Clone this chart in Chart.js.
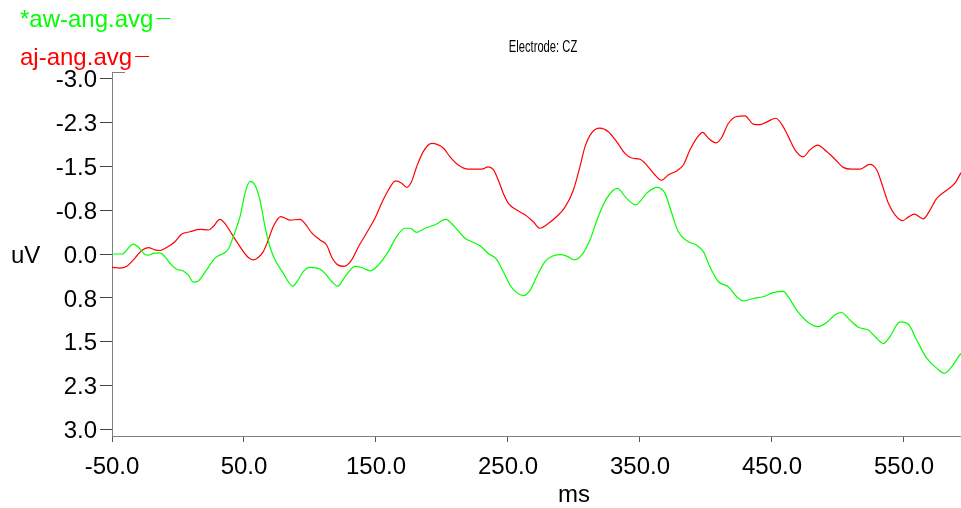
<!DOCTYPE html>
<html>
<head>
<meta charset="utf-8">
<script src="https://cdn.jsdelivr.net/npm/chart.js@4/dist/chart.umd.min.js"></script>
<style>
  html, body { margin: 0; padding: 0; background: #fff; }
  #wrap { width: 961px; height: 508px; }
</style>
</head>
<body>
<div id="wrap"><canvas id="erpChart" width="961" height="508"></canvas></div>
<script>
// series names and colours
const seriesNames = ["*aw-ang.avg", "aj-ang.avg"];
const seriesColors = ["rgb(0,255,0)", "rgb(255,0,0)"];
const chartTitle = "Electrode: CZ";
const xTitle = "ms";
const yTitle = "uV";

// green trace (*aw-ang.avg)
const greenMs = [-50, -42.6, -33.9, -30.1, -25, -22.5, -18.7, -13.6, -9.8, -4.8, -1, 4, 7.8, 11.6, 15.4, 21.7, 28, 34.3, 38.1, 41.9, 47, 50.8, 54.5, 58.3, 62.1, 65.9, 69.7, 73.5, 79.8, 86.9, 91.1, 94.9, 100, 107.6, 111.4, 116.4, 121, 126.5, 134.1, 139.2, 145.5, 151.7, 159.3, 165.7, 172, 175.8, 180.8, 187.1, 194.7, 202.8, 209.8, 217.4, 222.5, 228.8, 235.1, 241.4, 246.4, 251.5, 256.6, 261.6, 266.7, 271.7, 278, 284.3, 290.7, 295.7, 300.2, 305.8, 312.1, 318.4, 324.8, 332.8, 339.9, 346.7, 355.1, 362.7, 368.9, 374, 379, 386.6, 393, 398, 403, 409.3, 416.9, 423.3, 428.3, 435.8, 443.4, 451, 458.6, 462.3, 468.7, 477.5, 485.1, 491.4, 497.7, 502.8, 507.8, 515.4, 523, 528, 534.3, 539.4, 547, 553.3, 559.6, 567.2, 574.8, 580.5, 586.1, 591.7, 593.2];
const greenUv = [0, 0, -0.17, -0.12, 0.01, 0.02, -0.01, -0.02, 0.05, 0.19, 0.26, 0.29, 0.36, 0.48, 0.46, 0.27, 0.07, -0.01, -0.08, -0.30, -0.64, -1.04, -1.24, -1.18, -0.92, -0.47, -0.12, 0.10, 0.33, 0.55, 0.44, 0.30, 0.23, 0.26, 0.33, 0.47, 0.55, 0.39, 0.21, 0.23, 0.29, 0.19, -0.04, -0.30, -0.44, -0.44, -0.37, -0.44, -0.50, -0.59, -0.46, -0.27, -0.21, -0.14, -0.01, 0.09, 0.30, 0.53, 0.66, 0.71, 0.62, 0.39, 0.13, 0.03, 0.01, 0.05, 0.10, 0.02, -0.24, -0.64, -0.95, -1.12, -0.95, -0.84, -1.04, -1.14, -1.04, -0.70, -0.38, -0.21, -0.15, -0.04, 0.22, 0.47, 0.56, 0.73, 0.80, 0.76, 0.73, 0.66, 0.64, 0.73, 0.96, 1.17, 1.24, 1.17, 1.04, 1.00, 1.10, 1.25, 1.30, 1.41, 1.53, 1.41, 1.16, 1.20, 1.47, 1.78, 1.95, 2.04, 1.93, 1.74, 1.70];

// red trace (aj-ang.avg)
const redMs = [-50, -43.9, -38.9, -32.6, -27.5, -22.5, -17.4, -13.6, -8.6, -2.3, 2.8, 9.1, 16.7, 23, 26.7, 31.8, 35.6, 41.9, 48.3, 53.3, 57, 60.8, 64.6, 68.4, 72.2, 77.8, 84.8, 92.4, 96.2, 101.3, 107.6, 112.7, 116.4, 121.4, 126, 131.6, 136.6, 144.2, 149.2, 154.3, 159.3, 164.9, 169.5, 173.3, 177, 180.8, 185.8, 192.2, 201, 206.1, 212.3, 219.9, 230.1, 235.1, 238.9, 242.7, 246.4, 250.2, 256.6, 262.9, 269.2, 274.2, 279.3, 286.9, 293.2, 299.5, 304.5, 308.3, 313.4, 319.7, 326, 332.3, 338.6, 343.7, 350, 355.1, 361.4, 366.4, 371.4, 377.8, 382.8, 387.9, 393, 397.5, 401.7, 407.6, 411.9, 416.9, 423.3, 429.5, 435.8, 440.9, 444.7, 452.8, 457.3, 462.3, 467.4, 473.7, 478.8, 484.6, 491.4, 497.7, 504, 510.4, 516.7, 524.2, 529.3, 533.1, 538.1, 543.2, 549, 553.3, 557.8, 564.6, 569.7, 574.8, 582.3, 588.6, 593.2];
const redUv = [0.23, 0.24, 0.21, 0.07, -0.06, -0.11, -0.07, -0.06, -0.11, -0.21, -0.34, -0.38, -0.42, -0.41, -0.47, -0.59, -0.52, -0.30, -0.08, 0.06, 0.10, 0.06, -0.04, -0.24, -0.47, -0.64, -0.58, -0.59, -0.52, -0.36, -0.24, -0.15, 0.05, 0.19, 0.21, 0.10, -0.12, -0.41, -0.61, -0.87, -1.09, -1.25, -1.21, -1.14, -1.24, -1.49, -1.75, -1.89, -1.81, -1.66, -1.52, -1.45, -1.45, -1.49, -1.44, -1.26, -1.04, -0.87, -0.75, -0.67, -0.55, -0.44, -0.50, -0.64, -0.80, -1.09, -1.49, -1.83, -2.07, -2.15, -2.09, -1.92, -1.72, -1.64, -1.62, -1.52, -1.35, -1.26, -1.35, -1.42, -1.52, -1.78, -1.98, -2.08, -1.98, -1.90, -1.99, -2.23, -2.35, -2.36, -2.22, -2.21, -2.24, -2.32, -2.22, -2.01, -1.78, -1.66, -1.78, -1.86, -1.75, -1.62, -1.48, -1.45, -1.45, -1.53, -1.44, -1.21, -0.87, -0.67, -0.57, -0.63, -0.68, -0.60, -0.75, -0.95, -1.09, -1.21, -1.39];

// axes
const xMin = -50, xMax = 593.2;
const yMin = -3.11, yMax = 3.11;
const xTickValues = [-50, 50, 150, 250, 350, 450, 550];
const xTickLabels = ["-50.0", "50.0", "150.0", "250.0", "350.0", "450.0", "550.0"];
const yTickValues = [-3, -2.25, -1.5, -0.75, 0, 0.75, 1.5, 2.25, 3];
const yTickLabels = ["-3.0", "-2.3", "-1.5", "-0.8", "0.0", "0.8", "1.5", "2.3", "3.0"];

const FONT = "'Liberation Sans', Arial, sans-serif";
const AXIS_GREY = "#808080";

function toPoints(xs, ys) {
  return xs.map((x, i) => ({ x: x, y: ys[i] }));
}

// legend, title, axis names drawn straight on the canvas
const textPlugin = {
  id: "erpText",
  afterDraw(chart) {
    const ctx = chart.ctx;
    const area = chart.chartArea;
    ctx.save();
    ctx.font = "24px " + FONT;
    ctx.textAlign = "left";
    ctx.textBaseline = "alphabetic";
    seriesNames.forEach((name, i) => {
      const y = 27 + i * 37.5;
      ctx.fillStyle = seriesColors[i];
      ctx.fillText(name, 20, y);
      const w = ctx.measureText(name).width;
      ctx.strokeStyle = seriesColors[i];
      ctx.lineWidth = 1;
      ctx.beginPath();
      ctx.moveTo(20 + w + 3, Math.round(y - 9) + 0.5);
      ctx.lineTo(20 + w + 17, Math.round(y - 9) + 0.5);
      ctx.stroke();
    });

    ctx.fillStyle = "#000";
    ctx.fillText(yTitle, 11, 263);
    ctx.fillText(xTitle, 558, 502);

    // squashed title
    ctx.save();
    ctx.translate(543, 52);
    ctx.scale(0.7, 1);
    ctx.font = "16px " + FONT;
    ctx.textAlign = "center";
    ctx.fillText(chartTitle, 0, 0);
    ctx.restore();

    // small cap on top of the y axis
    ctx.strokeStyle = AXIS_GREY;
    ctx.lineWidth = 1;
    ctx.beginPath();
    ctx.moveTo(area.left, area.top + 0.5);
    ctx.lineTo(area.left + 13, area.top + 0.5);
    ctx.stroke();
    ctx.restore();
  }
};

const ctx = document.getElementById("erpChart").getContext("2d");
new Chart(ctx, {
  type: "line",
  data: {
    datasets: [
      {
        label: seriesNames[0],
        data: toPoints(greenMs, greenUv),
        borderColor: seriesColors[0],
        borderWidth: 1.2,
        pointRadius: 0,
        fill: false,
        cubicInterpolationMode: "monotone",
      },
      {
        label: seriesNames[1],
        data: toPoints(redMs, redUv),
        borderColor: seriesColors[1],
        borderWidth: 1.2,
        pointRadius: 0,
        fill: false,
        cubicInterpolationMode: "monotone",
      },
    ],
  },
  options: {
    responsive: false,
    animation: false,
    devicePixelRatio: 1,
    layout: { padding: { top: 72, left: 0, right: 0, bottom: 0 } },
    plugins: {
      legend: { display: false },
      title: { display: false },
      tooltip: { enabled: false },
    },
    scales: {
      x: {
        type: "linear",
        min: xMin,
        max: xMax,
        afterBuildTicks: (scale) => {
          scale.ticks = xTickValues.map((v) => ({ value: v }));
        },
        afterFit: (scale) => {
          scale.height = 72;
        },
        grid: { drawOnChartArea: false, tickLength: 6, tickColor: "#555" },
        border: { color: AXIS_GREY, width: 1 },
        ticks: {
          autoSkip: false,
          maxRotation: 0,
          padding: 11,
          color: "#000",
          font: { family: FONT, size: 24 },
          callback: (v, i) => xTickLabels[i],
        },
      },
      y: {
        type: "linear",
        reverse: true,
        min: yMin,
        max: yMax,
        afterBuildTicks: (scale) => {
          scale.ticks = yTickValues.map((v) => ({ value: v }));
        },
        afterFit: (scale) => {
          scale.width = 112;
        },
        grid: { drawOnChartArea: false, tickLength: 12, tickColor: "#444" },
        border: { color: AXIS_GREY, width: 1 },
        ticks: {
          padding: 3,
          labelOffset: 2,
          color: "#000",
          font: { family: FONT, size: 24 },
          callback: (v, i) => yTickLabels[i],
        },
      },
    },
  },
  plugins: [textPlugin],
});
</script>
</body>
</html>
